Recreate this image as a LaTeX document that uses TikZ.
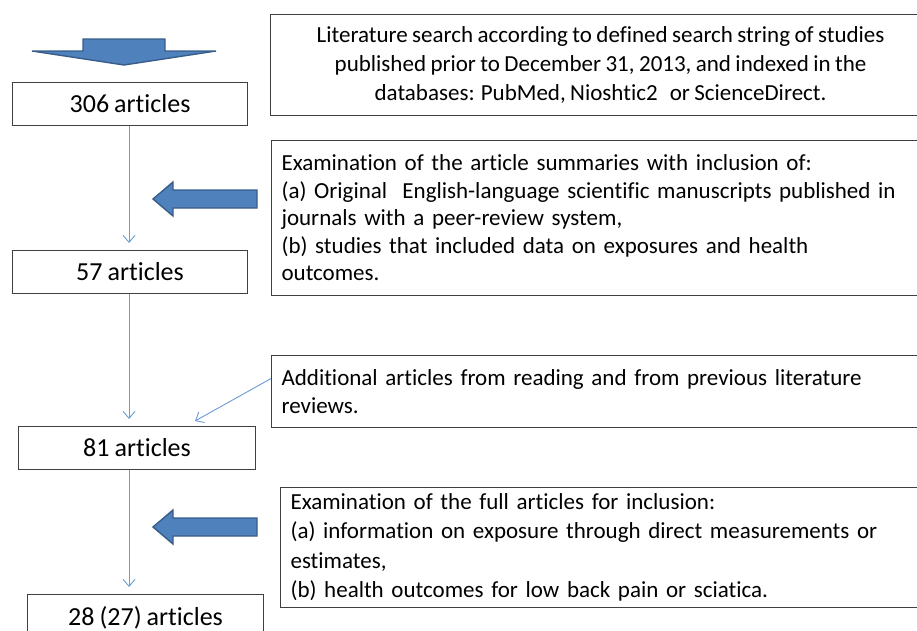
\documentclass[tikz,border=0pt]{standalone}
\usepackage{fontspec}
\setmainfont{Carlito}[Ligatures=NoCommon, WordSpace=0.85]
\usepackage{tikz}
\usetikzlibrary{arrows.meta}

\definecolor{arrowfill}{HTML}{4F81BD}
\definecolor{arrowline}{HTML}{385D8A}
\definecolor{flowline}{HTML}{6A9AD8}
\definecolor{boxline}{HTML}{404040}

\begin{document}
\begin{tikzpicture}[
      x=1pt, y=-1pt,
      countbox/.style={draw=boxline, line width=1.1pt, anchor=north west,
        minimum height=43pt, inner sep=0pt,
        font=\fontsize{26}{30}\selectfont},
      infobox/.style={draw=boxline, line width=1.1pt, anchor=north west,
        inner xsep=8pt, inner ysep=0pt, align=left,
        font=\fontsize{23}{27.5}\selectfont},
      blockarrow/.style={fill=arrowfill, draw=arrowline, line width=1.4pt,
        line join=miter},
      flow/.style={draw=flowline, line width=0.9pt,
        -{Straight Barb[length=7pt, width=12pt]}, shorten >=7pt}
    ]
    \useasboundingbox (0,0) rectangle (917,630);

    \node[countbox, minimum width=235pt] (n306) at (12,82) {306 articles};
    \node[countbox, minimum width=235pt] (n57) at (12,250) {57 articles};
    \node[countbox, minimum width=237pt] (n81) at (18,426) {81 articles};
    \node[countbox, minimum width=236pt, minimum height=46pt] (n28) at (27,594)
      {28 (27) articles};

    \node[infobox, align=center, minimum width=660pt, minimum height=101pt,
      font=\fontsize{23}{29}\selectfont]
      (search) at (270,14)
      {Literature search according to defined search string of studies\\
       published prior to December 31, 2013, and indexed in the\\
       databases: PubMed, Nioshtic2\,\, or ScienceDirect.};
    \node[infobox, minimum width=660pt, text width=640pt, minimum height=155pt]
      (summaries) at (271,140)
      {Examination of the article summaries with inclusion of:\\
       (a) Original\,\, English-language scientific manuscripts published in\\
       journals with a peer-review system,\\
       (b) studies that included data on exposures and health\\
       outcomes.};
    \node[infobox, minimum width=660pt, text width=640pt, minimum height=72pt]
      (additional) at (271,355)
      {Additional articles from reading and from previous literature\\
       reviews.};
    \node[infobox, inner xsep=7pt, minimum width=650pt, text width=630pt,
      minimum height=120pt, font=\fontsize{23}{29.5}\selectfont]
      (fulltext) at (280,487)
      {Examination of the full articles for inclusion:\\
       (a) information on exposure through direct measurements or\\
       estimates,\\
       (b) health outcomes for low back pain or sciatica.};

    \draw[blockarrow] (83,39) -- (165,39) -- (165,51) -- (216,51) -- (124,65)
      -- (32,51) -- (83,51) -- cycle;
    \foreach \y in {199, 527} {
      \draw[blockarrow] (257,\y-9) -- (173,\y-9) -- (173,\y-17) -- (153,\y)
        -- (173,\y+17) -- (173,\y+9) -- (257,\y+9) -- cycle;
    }

    \draw[flow] ([xshift=-1pt]n306.south) -- ([xshift=-1pt]n306.south |- n57.north);
    \draw[flow] ([xshift=-1pt]n57.south) -- ([xshift=-1pt]n57.south |- n81.north);
    \draw[flow] ([xshift=-8pt]n81.south) -- ([xshift=-8pt]n81.south |- n28.north);
    \coordinate (joinpt) at (195,421);
    \draw[flow, shorten >=0pt] ([yshift=13pt]additional.west) -- (joinpt);
    \end{tikzpicture}
\end{document}
